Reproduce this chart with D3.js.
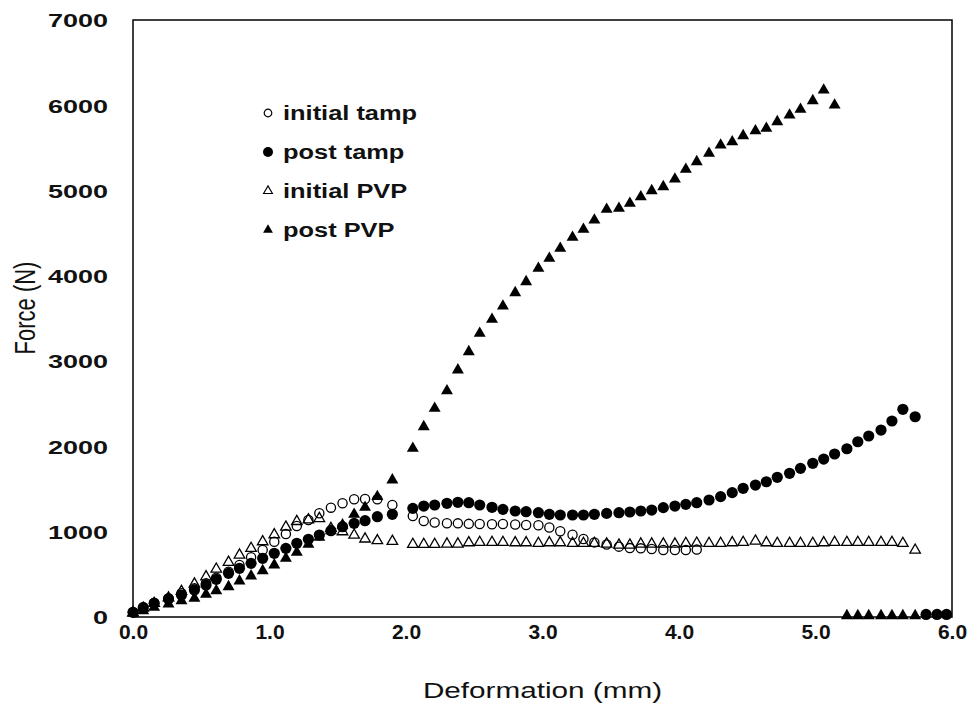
<!DOCTYPE html>
<html>
<head>
<meta charset="utf-8">
<title>Force vs Deformation</title>
<script src="https://d3js.org/d3.v7.min.js"></script>
<style>
  body { margin: 0; background: #fff; }
  svg { font-family: "Liberation Sans", Arial, sans-serif; }
</style>
</head>
<body>
<svg id="chart" width="975" height="719"></svg>
<script>
  // deformation (mm)
  let xEarly = [0.00, 0.075, 0.155, 0.26, 0.355, 0.45, 0.535, 0.61, 0.70, 0.78, 0.865, 0.95,
                1.035, 1.12, 1.20, 1.285, 1.365, 1.45, 1.535, 1.62, 1.70, 1.79, 1.90];
  let xLate = [2.05, 2.13, 2.21, 2.30, 2.38, 2.46, 2.54, 2.63, 2.71, 2.80, 2.88, 2.97,
               3.05, 3.13, 3.22, 3.30, 3.38, 3.47, 3.56, 3.64, 3.72, 3.80, 3.885, 3.97,
               4.05, 4.13, 4.22, 4.305, 4.39, 4.47, 4.56, 4.64, 4.72, 4.81, 4.89, 4.98,
               5.06, 5.14, 5.23, 5.31, 5.39, 5.48, 5.56, 5.64, 5.73];
  let xTampTail = [5.81, 5.89, 5.96];

  // force (N)
  let initialTamp = [55, 114, 168, 219, 278, 336, 395, 461, 531, 610, 700, 785,
                     883, 973, 1067, 1137, 1216, 1282, 1333, 1380, 1383, 1380, 1313,
                     1184, 1125, 1108, 1100, 1098, 1092, 1090, 1088, 1090, 1085, 1078, 1076,
                     1050, 1005, 965, 915, 875, 850, 825, 808, 805, 798, 786, 786,
                     786, 790];
  let postTamp = [55, 109, 160, 211, 258, 317, 375, 442, 512, 571, 629, 688,
                  747, 805, 864, 911, 961, 1012, 1059, 1098, 1129, 1176, 1204,
                  1274, 1301, 1313, 1333, 1345, 1340, 1313, 1286, 1262, 1243, 1235, 1223,
                  1204, 1196, 1196, 1196, 1204, 1215, 1223, 1231, 1243, 1254, 1282, 1301,
                  1321, 1340, 1372, 1411, 1458, 1509, 1547, 1586, 1638, 1685, 1743, 1802,
                  1852, 1911, 1973, 2055, 2122, 2192, 2298, 2435, 2348,
                  30, 30, 30];
  let initialPVP = [50, 105, 160, 225, 300, 387, 472, 562, 642, 727, 805, 883,
                    965, 1055, 1120, 1140, 1155, 1040, 1000, 961, 915, 895, 888,
                    852, 852, 852, 856, 856, 871, 875, 875, 875, 871, 871, 864,
                    871, 871, 864, 864, 864, 856, 844, 844, 856, 856, 856, 856,
                    864, 867, 864, 864, 871, 875, 891, 871, 864, 864, 864, 864,
                    871, 875, 875, 875, 875, 875, 875, 864, 785];
  let postPVP = [43, 74, 113, 152, 191, 219, 266, 308, 355, 422, 481, 543,
                 610, 688, 758, 852, 934, 1012, 1079, 1204, 1286, 1411, 1606,
                 1978, 2231, 2447, 2651, 2896, 3110, 3326, 3490, 3646, 3802, 3931, 4088,
                 4205, 4322, 4451, 4545, 4654, 4780, 4791, 4850, 4927, 4998, 5045, 5135,
                 5248, 5338, 5436, 5533, 5572, 5643, 5701, 5729, 5807, 5885, 5952, 6053,
                 6178, 6002,
                 15, 15, 15, 15, 15, 15, 15];

  let xTicks = [0, 1, 2, 3, 4, 5, 6];
  let yTicks = [0, 1000, 2000, 3000, 4000, 5000, 6000, 7000];
  let legendLabels = ["initial tamp", "post tamp", "initial PVP", "post PVP"];

  // pair up x and y for each series
  let xInitTamp = xEarly.concat(xLate.slice(0, 26));
  let xPostTamp = xEarly.concat(xLate, xTampTail);
  let xInitPVP = xEarly.concat(xLate);
  let xPostPVP = xEarly.concat(xLate.slice(0, 38), xLate.slice(38));

  function zip(xs, ys) {
    return ys.map((y, i) => ({x: xs[i], y: y}));
  }

  let series = [
    {name: "initial PVP", data: zip(xInitPVP, initialPVP), shape: "tri", filled: false},
    {name: "initial tamp", data: zip(xInitTamp, initialTamp), shape: "circle", filled: false},
    {name: "post PVP", data: zip(xPostPVP, postPVP), shape: "tri", filled: true},
    {name: "post tamp", data: zip(xPostTamp, postTamp), shape: "circle", filled: true}
  ];

  let svg = d3.select("#chart");

  let margin = {top: 20, right: 23, bottom: 102, left: 133};
  let plotWidth = 975 - margin.left - margin.right;
  let plotHeight = 719 - margin.top - margin.bottom;

  let xScale = d3.scaleLinear().domain([0, 6]).range([0, plotWidth]);
  let yScale = d3.scaleLinear().domain([0, 7000]).range([plotHeight, 0]);

  let plot = svg.append("g")
    .attr("transform", translate(margin.left, margin.top));

  // y axis labels
  let yAxis = d3.axisLeft(yScale).tickValues(yTicks).tickSize(0).tickFormat(d3.format("d"));
  let yGroup = plot.append("g").call(yAxis);
  yGroup.select(".domain").remove();
  yGroup.selectAll("text")
    .attr("x", 0)
    .attr("dy", "0.36em")
    .attr("transform", "translate(-25,0) scale(1.42,1)")
    .style("font-size", "19px")
    .style("font-weight", "bold")
    .style("font-family", "Liberation Sans, Arial, sans-serif")
    .attr("fill", "#111");

  // x axis labels
  let xAxis = d3.axisBottom(xScale).tickValues(xTicks).tickSize(0).tickPadding(7).tickFormat(d3.format(".1f"));
  let xGroup = plot.append("g").attr("transform", translate(0, plotHeight)).call(xAxis);
  xGroup.select(".domain").remove();
  xGroup.selectAll("text")
    .style("font-size", "21px")
    .style("font-weight", "bold")
    .style("font-family", "Liberation Sans, Arial, sans-serif")
    .attr("fill", "#111");

  // frame
  plot.append("rect")
    .attr("x", 0).attr("y", 0)
    .attr("width", plotWidth).attr("height", plotHeight)
    .attr("fill", "none")
    .attr("stroke", "#111")
    .attr("stroke-width", 1.6);

  // axis titles
  svg.append("text")
    .attr("transform", translate(margin.left + plotWidth / 2, 698) + " scale(1.35,1)")
    .attr("text-anchor", "middle")
    .style("font-size", "22px")
    .attr("fill", "#111")
    .text("Deformation (mm)");

  svg.append("text")
    .attr("transform", translate(35, 308) + " scale(1.35,1) rotate(-90)")
    .attr("text-anchor", "middle")
    .style("font-size", "22px")
    .attr("fill", "#111")
    .text("Force (N)");

  // marker helpers
  let triPath = d3.symbol().type(d3.symbolTriangle);

  function drawMarks(g, s, size) {
    let sel = g.selectAll("x").data(s.data).enter();
    if (s.shape === "circle") {
      sel.append("circle")
        .attr("cx", d => xScale(d.x))
        .attr("cy", d => yScale(d.y))
        .attr("r", s.filled ? size.rf : size.ro)
        .attr("fill", s.filled ? "#000" : "none")
        .attr("stroke", "#000")
        .attr("stroke-width", s.filled ? 0 : 1.3);
    } else {
      sel.append("path")
        .attr("d", triPath.size(s.filled ? size.tf : size.to)())
        .attr("transform", d => translate(xScale(d.x), yScale(d.y)))
        .attr("fill", s.filled ? "#000" : "none")
        .attr("stroke", "#000")
        .attr("stroke-width", s.filled ? 0 : 1.3);
    }
  }

  let markSize = {rf: 5.6, ro: 4.6, tf: 62, to: 48};
  series.forEach(s => drawMarks(plot.append("g"), s, markSize));

  // legend
  let legendOrder = [1, 3, 0, 2].map(i => series[i]);
  let legend = svg.append("g").attr("transform", translate(268, 113));
  legendOrder.forEach((s, i) => {
    let row = legend.append("g").attr("transform", translate(0, i * 39));
    if (s.shape === "circle") {
      row.append("circle")
        .attr("r", s.filled ? 5 : 3.8)
        .attr("fill", s.filled ? "#000" : "none")
        .attr("stroke", "#000")
        .attr("stroke-width", s.filled ? 0 : 1.2);
    } else {
      row.append("path")
        .attr("d", triPath.size(s.filled ? 42 : 34)())
        .attr("fill", s.filled ? "#000" : "none")
        .attr("stroke", "#000")
        .attr("stroke-width", s.filled ? 0 : 1.1);
    }
    row.append("text")
      .attr("transform", translate(15, 0) + " scale(1.27,1)")
      .attr("dy", "0.35em")
      .style("font-size", "20px")
      .style("font-weight", "bold")
      .attr("fill", "#111")
      .text(legendLabels[i]);
  });

  // helper method to make translating easier
  function translate(x, y) {
    return 'translate(' + x + ',' + y + ')';
  }
</script>
</body>
</html>
